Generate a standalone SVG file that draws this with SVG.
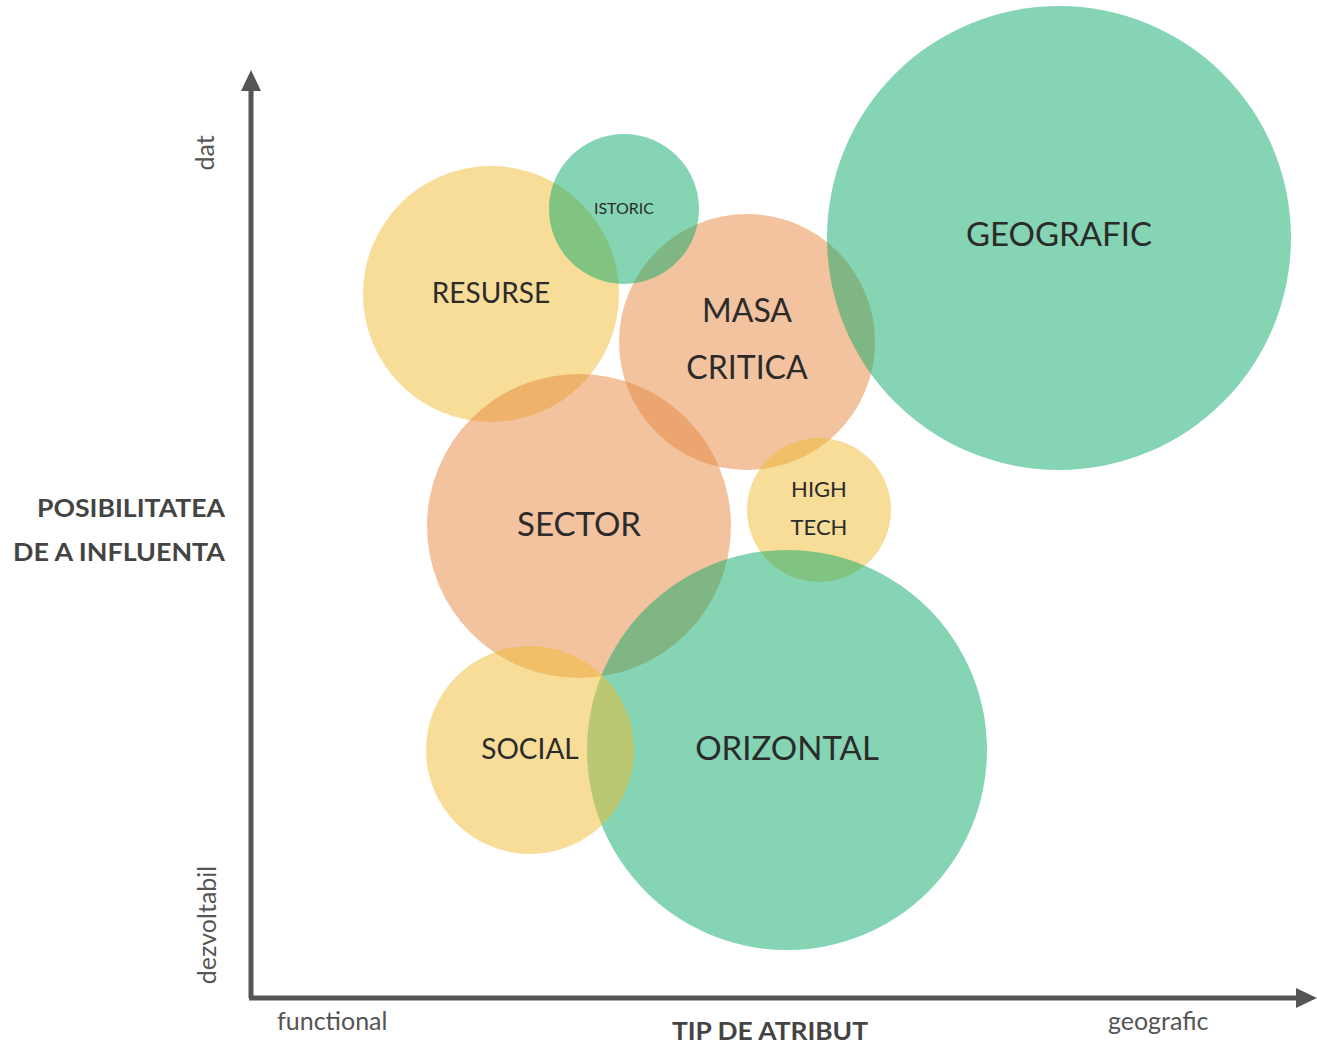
<svg xmlns="http://www.w3.org/2000/svg" width="1317" height="1045" viewBox="0 0 1317 1045">
<style>
.g{fill:#0ba969;fill-opacity:0.5}
.y{fill:#efbb31;fill-opacity:0.5}
.o{fill:#e5873d;fill-opacity:0.5}
text{font-family:Lato,"Open Sans",sans-serif;fill:#2b2b2b}
.c{text-anchor:middle}
.ax{fill:#555;font-size:25px}
.b{font-weight:bold;fill:#444;font-size:25px}
</style>
<rect width="1317" height="1045" fill="#fff"/>
<g id="connectors">
<line x1="251" y1="998" x2="251" y2="86" stroke="#555" stroke-width="5"/>
<polygon points="251,70 241,91 261,91" fill="#555"/>
<line x1="249" y1="998" x2="1300" y2="998" stroke="#555" stroke-width="5"/>
<polygon points="1317,998 1296,988 1296,1008" fill="#555"/>
</g>
<g id="resurse"><circle class="y" cx="491" cy="294" r="128"/><text class="c" x="491" y="303" font-size="28">RESURSE</text></g>
<g id="masa"><circle class="o" cx="747" cy="342" r="128"/><text class="c" x="747" y="322" font-size="32">MASA</text><text class="c" x="747" y="379" font-size="32">CRITICA</text></g>
<g id="istoric"><circle class="g" cx="624" cy="209" r="75"/><text class="c" x="624" y="214" font-size="16">ISTORIC</text></g>
<g id="hightech"><circle class="y" cx="819" cy="510" r="72"/><text class="c" x="819" y="497" font-size="22">HIGH</text><text class="c" x="819" y="535" font-size="22">TECH</text></g>
<g id="sector"><circle class="o" cx="579" cy="526" r="152"/><text class="c" x="579" y="536" font-size="33">SECTOR</text></g>
<g id="orizontal"><circle class="g" cx="787" cy="750" r="200"/><text class="c" x="787" y="760" font-size="33">ORIZONTAL</text></g>
<g id="social"><circle class="y" cx="530" cy="750" r="104"/><text class="c" x="530" y="759" font-size="28">SOCIAL</text></g>
<g id="geografic"><circle class="g" cx="1059" cy="238" r="232"/><text class="c" x="1059" y="246" font-size="33">GEOGRAFIC</text></g>
<g id="labels">
<text class="b" x="37" y="517" textLength="188" lengthAdjust="spacingAndGlyphs">POSIBILITATEA</text>
<text class="b" x="13" y="561" textLength="212" lengthAdjust="spacingAndGlyphs">DE A INFLUENTA</text>
<text class="ax c" transform="translate(214,153) rotate(-90)">dat</text>
<text class="ax c" transform="translate(216,925) rotate(-90)">dezvoltabil</text>
<text class="ax" x="277" y="1030">functional</text>
<text class="b" x="672" y="1040" textLength="196" lengthAdjust="spacingAndGlyphs">TIP DE ATRIBUT</text>
<text class="ax" x="1108" y="1030">geografic</text>
</g>
</svg>
